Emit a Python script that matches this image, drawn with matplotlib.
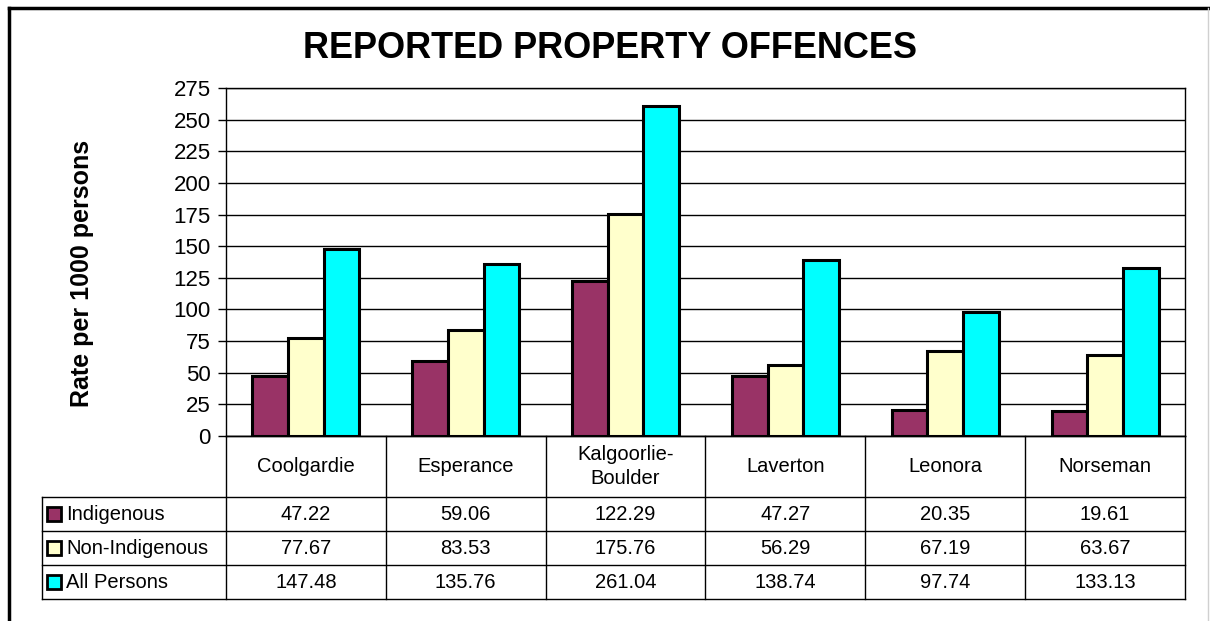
import numpy as np
import matplotlib
matplotlib.use("Agg")
import matplotlib.pyplot as plt
from matplotlib.lines import Line2D
from matplotlib.patches import Rectangle

plt.rcParams['font.family'] = ['Liberation Sans', 'DejaVu Sans']

towns = ["Coolgardie", "Esperance", "Kalgoorlie-\nBoulder", "Laverton", "Leonora", "Norseman"]
series_names = ["Indigenous", "Non-Indigenous", "All Persons"]
indigenous = [47.22, 59.06, 122.29, 47.27, 20.35, 19.61]
non_indigenous = [77.67, 83.53, 175.76, 56.29, 67.19, 63.67]
all_persons = [147.48, 135.76, 261.04, 138.74, 97.74, 133.13]
colors = ["#993366", "#FFFFCC", "#00FFFF"]
y_ticks = list(range(0, 276, 25))

W, H = 1210, 621
fig = plt.figure(figsize=(W / 100, H / 100), dpi=100)


def px_box(x0, y0, x1, y1):
    # pixel box (top-left origin) -> figure fraction rect
    return [x0 / W, 1 - y1 / H, (x1 - x0) / W, (y1 - y0) / H]


# outer frame
fig.add_artist(Line2D([9 / W, 9 / W], [0, 1 - 8 / H], color="black", lw=2.5))
fig.add_artist(Line2D([9 / W, 1], [1 - 8 / H, 1 - 8 / H], color="black", lw=2.5))
fig.add_artist(Line2D([1208 / W, 1208 / W], [0, 1 - 8 / H], color="#d0d0d0", lw=1))

# main plot
ax = fig.add_axes(px_box(226, 88, 1185, 436))
series = [indigenous, non_indigenous, all_persons]
x = np.arange(len(towns))
bw = 0.223
for i, (vals, c) in enumerate(zip(series, colors)):
    ax.bar(x + (i - 1) * bw, vals, width=bw, color=c, edgecolor="black",
           linewidth=2.2, zorder=3)

ax.set_xlim(-0.5, len(towns) - 0.5)
ax.set_ylim(0, 275)
ax.set_yticks(y_ticks)
ax.set_xticks([])
ax.tick_params(axis="y", direction="out", length=6, width=1, labelsize=16, pad=5)
ax.yaxis.grid(True, color="black", lw=1)
ax.set_axisbelow(True)
for s in ax.spines.values():
    s.set_linewidth(1)
    s.set_color("black")
ax.set_ylabel("Rate per 1000 persons", fontsize=18, fontweight="bold")
ax.yaxis.set_label_coords(-0.1376, 0.466)

fig.text(0.504, 1 - 48 / H, "REPORTED PROPERTY OFFENCES", ha="center", va="center",
         fontsize=26, fontweight="bold")

# data table below the plot
tab = fig.add_axes(px_box(42, 436, 1185, 599))
col_w = (1185 - 226) / len(towns)
leg_w = 226 - 42
tab.set_xlim(-0.5 - leg_w / col_w, len(towns) - 0.5)
row_edges = [0, 61, 95, 129, 163]
tab.set_ylim(row_edges[-1], 0)
tab.axis("off")

x_left = -0.5 - leg_w / col_w
# horizontal lines
tab.plot([-0.5, len(towns) - 0.5], [row_edges[0]] * 2, color="black", lw=1, clip_on=False)
for r in row_edges[1:]:
    tab.plot([x_left, len(towns) - 0.5], [r, r], color="black", lw=1, clip_on=False)
# vertical lines
for k in range(len(towns) + 1):
    xv = k - 0.5
    tab.plot([xv, xv], [row_edges[0], row_edges[-1]], color="black", lw=1, clip_on=False)
tab.plot([x_left, x_left], [row_edges[1], row_edges[-1]], color="black", lw=1, clip_on=False)

for j, t in enumerate(towns):
    tab.text(j, (row_edges[0] + row_edges[1]) / 2, t, ha="center", va="center",
             fontsize=14.5, linespacing=1.3)

key_w = 14 / col_w
for i, (name, vals, c) in enumerate(zip(series_names, series, colors)):
    yc = (row_edges[i + 1] + row_edges[i + 2]) / 2
    tab.add_patch(Rectangle((x_left + 5 / col_w, yc - 7), key_w, 14, facecolor=c,
                            edgecolor="black", lw=2, clip_on=False))
    tab.text(x_left + 24 / col_w, yc + 1, name, ha="left", va="center", fontsize=14.5)
    for j, v in enumerate(vals):
        tab.text(j, yc, f"{v:.2f}", ha="center", va="center", fontsize=14.5)

fig.savefig("out.png", dpi=100)
